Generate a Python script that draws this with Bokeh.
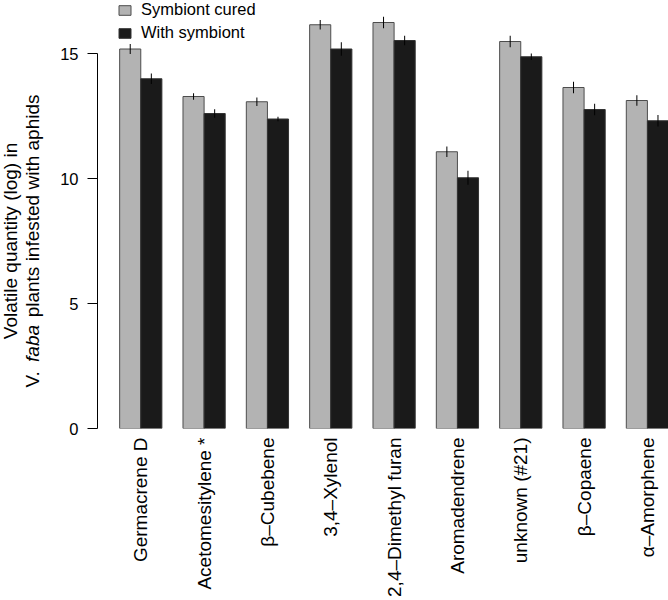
import math
from bokeh.plotting import figure
from bokeh.layouts import row
from bokeh.models import Range1d, FixedTicker, Legend, LegendItem, ColumnDataSource
from bokeh.core.properties import value
from bokeh.embed import file_html
from bokeh.resources import INLINE

# ---------------- data ----------------
compounds = ["Germacrene D", "Acetomesitylene *", "\u03b2\u2013Cubebene", "3,4\u2013Xylenol",
             "2,4\u2013Dimethyl furan", "Aromadendrene", "unknown (#21)", "\u03b2\u2013Copaene",
             "\u03b1\u2013Amorphene"]
cured = [15.18, 13.28, 13.07, 16.15, 16.24, 11.07, 15.48, 13.64, 13.12]
cured_se = [0.20, 0.13, 0.17, 0.19, 0.23, 0.21, 0.23, 0.23, 0.21]
symbiont = [13.99, 12.60, 12.38, 15.18, 15.52, 10.03, 14.87, 12.76, 12.31]
symbiont_se = [0.21, 0.17, 0.09, 0.27, 0.19, 0.28, 0.13, 0.23, 0.23]
series_names = ["Symbiont cured", "With symbiont"]
y_ticks = [0, 5, 10, 15]
title_line1 = "Volatile quantity (log) in"
title_line2 = ["V.", "faba", "plants infested with aphids"]
title_line2_styles = ["normal", "italic", "normal"]

# ---------------- layout ----------------
FONT = "Liberation Sans"
W, H = 668, 600
TW = 46                 # width of the title strip
AXIS_X = 97             # screen x of the y axis line
BOTTOM_Y = 428          # screen y of value 0
BB = H - BOTTOM_Y
BL = AXIS_X - TW
PW = W - TW
FW, FH = PW - BL, H - BB
PXU_X = 21.11
PXU_Y = 25.0
X0 = -0.05
X1 = X0 + FW / PXU_X
Y1 = FH / PXU_Y

n = len(compounds)
grp = [3 * i for i in range(n)]
x_cured = [g + 1.5 for g in grp]
x_sym = [g + 2.5 for g in grp]
centers = [g + 2 for g in grp]

yr = Range1d(0, Y1)
p = figure(width=PW, height=H, x_range=Range1d(X0, X1), y_range=yr,
           output_backend="svg", toolbar_location=None,
           min_border_left=BL, min_border_bottom=BB, min_border_top=0, min_border_right=0)
p.outline_line_color = None
p.grid.visible = False

src_c = ColumnDataSource(dict(x=x_cured, top=cured,
                              lo=[v - s for v, s in zip(cured, cured_se)],
                              hi=[v + s for v, s in zip(cured, cured_se)]))
src_s = ColumnDataSource(dict(x=x_sym, top=symbiont,
                              lo=[v - s for v, s in zip(symbiont, symbiont_se)],
                              hi=[v + s for v, s in zip(symbiont, symbiont_se)]))

r_c = p.vbar(x="x", top="top", bottom=0, width=1.0, source=src_c,
             fill_color="#b3b3b3", line_color="#4d4d4d", line_width=1)
r_s = p.vbar(x="x", top="top", bottom=0, width=1.0, source=src_s,
             fill_color="#1a1a1a", line_color="#333333", line_width=1)
p.segment(x0="x", y0="lo", x1="x", y1="hi", source=src_c, line_color="black", line_width=1)
p.segment(x0="x", y0="lo", x1="x", y1="hi", source=src_s, line_color="black", line_width=1)

# y axis
ya = p.yaxis[0]
ya.ticker = FixedTicker(ticks=y_ticks)
ya.bounds = (y_ticks[0], y_ticks[-1])
ya.axis_line_color = "black"
ya.axis_line_width = 1
ya.major_tick_line_color = "black"
ya.major_tick_out = 10
ya.major_tick_in = 0
ya.minor_tick_line_color = None
ya.major_label_text_font = FONT
ya.major_label_text_font_size = "16.5px"
ya.major_label_text_color = "black"
ya.major_label_standoff = 9

# x axis (category labels)
xa = p.xaxis[0]
xa.ticker = FixedTicker(ticks=centers)
xa.major_label_overrides = {c: name for c, name in zip(centers, compounds)}
xa.axis_line_color = None
xa.major_tick_line_color = None
xa.minor_tick_line_color = None
xa.major_tick_out = 0
xa.major_tick_in = 0
xa.major_label_orientation = math.pi / 2
xa.major_label_standoff = 9
xa.major_label_text_font = FONT
xa.major_label_text_font_size = "19px"
xa.major_label_text_color = "black"

# legend
LH = 2 * 19 + 4
legend = Legend(items=[LegendItem(label=series_names[0], renderers=[r_c]),
                       LegendItem(label=series_names[1], renderers=[r_s])],
                location=(20, FH - LH), orientation="vertical",
                glyph_width=15, glyph_height=12, label_height=14, spacing=4,
                label_standoff=9, padding=0, margin=0,
                border_line_color=None, background_fill_alpha=0,
                label_text_font=FONT, label_text_font_size="16.5px", label_text_color="black")
p.add_layout(legend)

# ---------------- y title strip (two lines, second with an italic part) ----------------
# shares the value range so its frame lines up with the chart's frame
tf = figure(width=TW, height=H, x_range=Range1d(0, TW), y_range=yr,
            output_backend="svg", toolbar_location=None,
            x_axis_location=None, y_axis_location=None,
            min_border_left=0, min_border_right=0, min_border_top=0, min_border_bottom=BB)
tf.outline_line_color = None
tf.grid.visible = False

AW = {'V': .667, '.': .278, ' ': .278, 'f': .278, 'a': .556, 'b': .556, 'p': .556, 'l': .222,
      'n': .556, 't': .278, 's': .5, 'i': .222, 'e': .556, 'd': .556, 'w': .722, 'h': .556}
def tw(s, fs):
    return sum(AW.get(ch, .556) for ch in s) * fs

TFS = 19
ymid = (y_ticks[0] + y_ticks[-1]) / 2
tf.text(x=[10], y=[ymid], text=[title_line1], angle=math.pi / 2,
        text_align="center", text_baseline="middle", text_font=value(FONT),
        text_font_size=value(f"{TFS}px"), text_color="black")
gap = 0.4 * TFS
widths = [tw(s, TFS) for s in title_line2]
total = sum(widths) + gap * (len(widths) - 1)
pos_px = -total / 2
for s, st, wd in zip(title_line2, title_line2_styles, widths):
    tf.text(x=[32], y=[ymid + pos_px / PXU_Y], text=[s], angle=math.pi / 2,
            text_align="left", text_baseline="middle", text_font=value(FONT),
            text_font_style=st, text_font_size=value(f"{TFS}px"), text_color="black")
    pos_px += wd + gap

layout = row(tf, p, spacing=0)
open("out.html", "w").write(file_html(layout, INLINE))
